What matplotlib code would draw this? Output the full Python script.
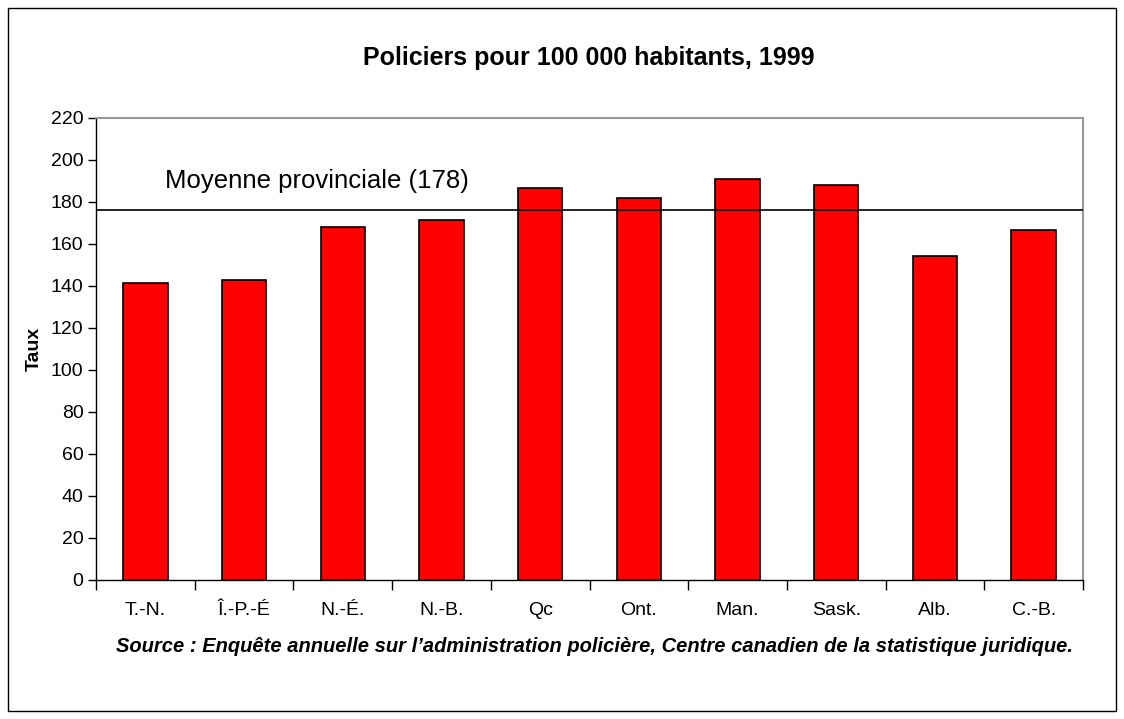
import numpy as np
import matplotlib.pyplot as plt
from matplotlib.patches import Rectangle

provinces = ['T.-N.', 'Î.-P.-É', 'N.-É.', 'N.-B.', 'Qc', 'Ont.', 'Man.', 'Sask.', 'Alb.', 'C.-B.']
taux = [141.5, 143, 168, 171.5, 186.5, 182, 191, 188, 154.5, 166.5]
moyenne = 176
yticks = np.arange(0, 221, 20)

plt.rcParams['font.family'] = ['Liberation Sans', 'DejaVu Sans']

fig = plt.figure(figsize=(11.24, 7.19), dpi=100)
# cadre exterieur
fig.patches.append(Rectangle((8 / 1124, 8 / 719), 1108 / 1124, 703 / 719,
                             transform=fig.transFigure, fill=False,
                             edgecolor='black', linewidth=1))

ax = fig.add_axes([96 / 1124, 139 / 719, 987 / 1124, 462 / 719])
x = np.arange(len(provinces))
ax.bar(x, taux, width=0.45, color='#ff0000', edgecolor='black', linewidth=1.2, zorder=2)
ax.axhline(moyenne, color='black', linewidth=1.2, zorder=3)
ax.text(0.2, 190, 'Moyenne provinciale (178)', fontsize=18.5, ha='left', va='center')

ax.set_xlim(-0.5, len(provinces) - 0.5)
ax.set_ylim(0, 220)
ax.set_yticks(yticks)
ax.tick_params(axis='y', labelsize=14, length=6, width=1, direction='out', pad=3)
ax.set_xticks(x)
ax.set_xticklabels(provinces, fontsize=14)
ax.tick_params(axis='x', length=0, pad=16)
ax.set_xticks(np.arange(-0.5, len(provinces)), minor=True)
ax.tick_params(axis='x', which='minor', length=7, width=1, direction='out')

for s in ['top', 'right']:
    ax.spines[s].set_color('#999999')
    ax.spines[s].set_linewidth(1.5)
for s in ['left', 'bottom']:
    ax.spines[s].set_color('black')
    ax.spines[s].set_linewidth(1)

ax.set_ylabel('Taux', fontsize=14, fontweight='bold', labelpad=6)

fig.text(589 / 1124, 1 - 58 / 719, 'Policiers pour 100 000 habitants, 1999',
         fontsize=18, fontweight='bold', ha='center', va='center')
fig.text(595 / 1124, 1 - 646 / 719,
         'Source : Enquête annuelle sur l\u2019administration policière, Centre canadien de la statistique juridique.',
         fontsize=14.5, fontweight='bold', style='italic', ha='center', va='center')

plt.savefig('out.png', dpi=100)
